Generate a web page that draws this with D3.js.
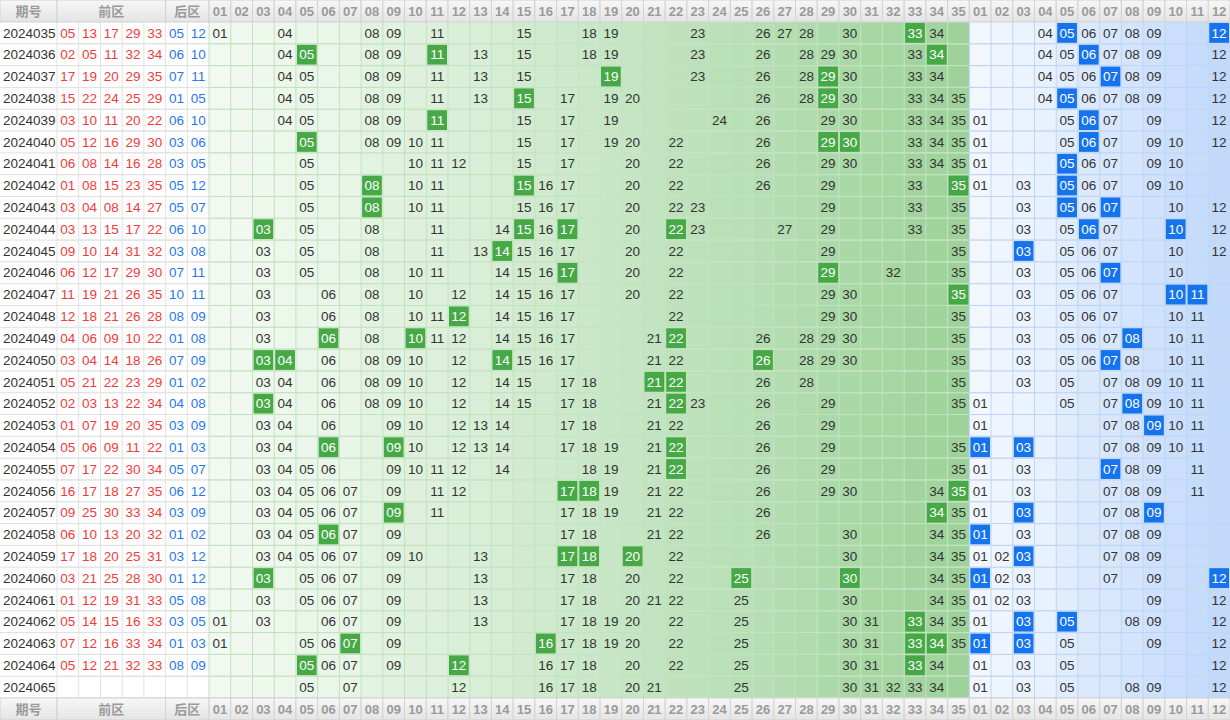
<!DOCTYPE html>
<html>
<head>
<meta charset="utf-8">
<script src="https://cdn.jsdelivr.net/npm/d3@7"></script>
<style>
  body { margin: 0; background: #fff; }
  svg { display: block; font-family: "Liberation Sans", Arial, "Noto Sans CJK SC", sans-serif; }
</style>
</head>
<body>
<svg id="chart"></svg>
<script>
const periods = d3.range(2024035, 2024066).map(String);

// winning numbers per period (last period not drawn yet)
const frontWin = [
  "05 13 17 29 33", "02 05 11 32 34", "17 19 20 29 35", "15 22 24 25 29", "03 10 11 20 22",
  "05 12 16 29 30", "06 08 14 16 28", "01 08 15 23 35", "03 04 08 14 27", "03 13 15 17 22",
  "09 10 14 31 32", "06 12 17 29 30", "11 19 21 26 35", "12 18 21 26 28", "04 06 09 10 22",
  "03 04 14 18 26", "05 21 22 23 29", "02 03 13 22 34", "01 07 19 20 35", "05 06 09 11 22",
  "07 17 22 30 34", "16 17 18 27 35", "09 25 30 33 34", "06 10 13 20 32", "17 18 20 25 31",
  "03 21 25 28 30", "01 12 19 31 33", "05 14 15 16 33", "07 12 16 33 34", "05 12 21 32 33", ""
];
const backWin = [
  "05 12", "06 10", "07 11", "01 05", "06 10", "03 06", "03 05", "05 12", "05 07", "06 10",
  "03 08", "07 11", "10 11", "08 09", "01 08", "07 09", "01 02", "04 08", "03 09", "01 03",
  "05 07", "06 12", "03 09", "01 02", "03 12", "01 12", "05 08", "03 05", "01 03", "08 09", ""
];

// numbers shown in the grid; * marks a hit cell
const frontGrid = [
  "01 04 08 09 11 15 18 19 23 26 27 28 30 33* 34",
  "04 05* 08 09 11* 13 15 18 19 23 26 28 29 30 33 34*",
  "04 05 08 09 11 13 15 19* 23 26 28 29* 30 33 34",
  "04 05 08 09 11 13 15* 17 19 20 26 28 29* 30 33 34 35",
  "04 05 08 09 11* 15 17 19 24 26 29 30 33 34 35",
  "05* 08 09 10 11 15 17 19 20 22 26 29* 30* 33 34 35",
  "05 10 11 12 15 17 20 22 26 29 30 33 34 35",
  "05 08* 10 11 15* 16 17 20 22 26 29 33 35*",
  "05 08* 10 11 15 16 17 20 22 23 29 33 35",
  "03* 05 08 11 14 15* 16 17* 20 22* 23 27 29 33 35",
  "03 05 08 11 13 14* 15 16 17 20 22 29 35",
  "03 05 08 10 11 14 15 16 17* 20 22 29* 32 35",
  "03 06 08 10 12 14 15 16 17 20 22 29 30 35*",
  "03 06 08 10 11 12* 14 15 16 17 22 29 30 35",
  "03 06* 08 10* 11 12 14 15 16 17 21 22* 26 28 29 30 35",
  "03* 04* 06 08 09 10 12 14* 15 16 17 21 22 26* 28 29 30 35",
  "03 04 06 08 09 10 12 14 15 17 18 21* 22* 26 28 35",
  "03* 04 06 08 09 10 12 14 15 17 18 21 22* 23 26 29 35",
  "03 04 06 09 10 12 13 14 17 18 21 22 26 29",
  "03 04 06* 09* 10 12 13 14 17 18 19 21 22* 26 29 35",
  "03 04 05 06 09 10 11 12 14 18 19 21 22* 26 29 35",
  "03 04 05 06 07 09 11 12 17* 18* 19 21 22 26 29 30 34 35*",
  "03 04 05 06 07 09* 11 17 18 19 21 22 26 34* 35",
  "03 04 05 06* 07 09 17 18 21 22 26 30 34 35",
  "03 04 05 06 07 09 10 13 17* 18* 20* 22 30 34 35",
  "03* 05 06 07 09 13 17 18 20 22 25* 30* 34 35",
  "03 05 06 07 09 13 17 18 20 21 22 25 30 34 35",
  "01 03 06 07 09 13 17 18 19 20 22 25 30 31 33* 34 35",
  "01 05 06 07* 09 16* 17 18 19 20 22 25 30 31 33* 34* 35",
  "05* 06 07 09 12* 16 17 18 20 22 25 30 31 33* 34",
  "05 07 12 16 17 18 20 21 25 30 31 32 33 34"
];
const backGrid = [
  "04 05* 06 07 08 09 12*", "04 05 06* 07 08 09 12", "04 05 06 07* 08 09 12", "04 05* 06 07 08 09 12",
  "01 05 06* 07 09 12", "01 05 06* 07 09 10 12", "01 05* 06 07 09 10", "01 03 05* 06 07 09 10",
  "03 05* 06 07* 10 12", "03 05 06* 07 10* 12", "03* 05 06 07 10 12", "03 05 06 07* 10",
  "03 05 06 07 10* 11*", "03 05 06 07 10 11", "03 05 06 07 08* 10 11", "03 05 06 07* 08 10 11",
  "03 05 07 08 09 10 11", "01 05 07 08* 09 10 11", "01 07 08 09* 10 11", "01* 03* 07 08 09 10 11",
  "01 03 07* 08 09 11", "01 03 07 08 09 11", "01 03* 07 08 09*", "01* 03 07 08 09",
  "01 02 03* 07 08 09", "01* 02 03 07 09 12*", "01 02 03 09 12", "01 03* 05* 08 09 12",
  "01* 03* 05 09 12", "01 03 05 12", "01 03 05 08 09 12"
];

const frontNums = d3.range(1, 36).map(d => String(d).padStart(2, "0"));
const backNums = d3.range(1, 13).map(d => String(d).padStart(2, "0"));

const W = 1230, H = 720, idW = 57, headH = 22;
const svg = d3.select("#chart").attr("width", W).attr("height", H);

// 54 equal columns: 5 front + 2 back + 35 front grid + 12 back grid
const colKeys = d3.range(54);
const x = d3.scaleBand().domain(colKeys).range([idW, W]);
const cw = x.bandwidth();
const y = d3.scaleBand().domain(periods).range([headH, H - headH]);
const rh = y.bandwidth();

// column background colours
const greenBands = [["#f1f9f0", "#e8f5e7"], ["#e3f3e1", "#d6edd4"], ["#d2ebd0", "#c2e4c0"], ["#bfe2bc", "#b1dbae"], ["#acd9a9", "#9fd29b"]];
const blueBands = [["#f2f7ff", "#e8f1fe"], ["#e1ecfd", "#d3e4fc"], ["#cfe1fc", "#c2d9fa"]];
function colFill(c) {
  if (c < 7) return "#ffffff";
  if (c < 42) { const i = c - 7, b = greenBands[Math.floor(i / 7)]; return d3.interpolateRgb(b[0], b[1])((i % 7) / 6); }
  const i = c - 42, b = blueBands[Math.floor(i / 4)]; return d3.interpolateRgb(b[0], b[1])((i % 4) / 3);
}
function lineCol(c) { return c < 7 ? "#e2e2e2" : c < 42 ? "#bfe3bc" : "#bad5f7"; }

const body = svg.append("g");
colKeys.forEach(c => {
  body.append("rect").attr("x", x(c)).attr("y", headH).attr("width", cw).attr("height", H - 2 * headH)
    .attr("fill", colFill(c));
});
body.append("rect").attr("x", 0).attr("y", headH).attr("width", idW).attr("height", H - 2 * headH).attr("fill", "#fff");

// grid lines
periods.forEach(p => {
  body.append("line").attr("x1", 0).attr("x2", W).attr("y1", y(p) + rh).attr("y2", y(p) + rh)
    .attr("stroke", "#e0e0e0").attr("stroke-width", 1);
  colKeys.forEach(c => {
    body.append("line").attr("x1", x(c)).attr("x2", x(c) + cw).attr("y1", y(p) + rh).attr("y2", y(p) + rh)
      .attr("stroke", lineCol(c));
  });
});
colKeys.forEach(c => {
  body.append("line").attr("x1", x(c)).attr("x2", x(c)).attr("y1", headH).attr("y2", H - headH)
    .attr("stroke", lineCol(c));
});

// period id + winning numbers
periods.forEach((p, r) => {
  const cy = y(p) + rh / 2;
  body.append("text").attr("x", 3).attr("y", cy).attr("dy", "0.35em").attr("font-size", 13.5)
    .attr("fill", "#333").text(p);
  const fw = frontWin[r] ? frontWin[r].split(" ") : [];
  const bw = backWin[r] ? backWin[r].split(" ") : [];
  fw.forEach((n, i) => body.append("text").attr("x", x(i) + cw / 2).attr("y", cy).attr("dy", "0.35em")
    .attr("text-anchor", "middle").attr("font-size", 13.5).attr("fill", "#f03b3b").text(n));
  bw.forEach((n, i) => body.append("text").attr("x", x(5 + i) + cw / 2).attr("y", cy).attr("dy", "0.35em")
    .attr("text-anchor", "middle").attr("font-size", 13.5).attr("fill", "#1f78ee").text(n));
});

// grid numbers
function drawGrid(rows, offset, hitColor) {
  rows.forEach((row, r) => {
    const p = periods[r], cy = y(p) + rh / 2;
    row.split(" ").forEach(tok => {
      const hit = tok.endsWith("*"), n = tok.replace("*", ""), c = offset + (+n) - 1;
      if (hit) body.append("rect").attr("x", x(c) + 1).attr("y", y(p) + 1).attr("width", cw - 2).attr("height", rh - 2)
        .attr("fill", hitColor);
      body.append("text").attr("x", x(c) + cw / 2).attr("y", cy).attr("dy", "0.35em")
        .attr("text-anchor", "middle").attr("font-size", 13.5)
        .attr("fill", hit ? "#fff" : "#333").text(n);
    });
  });
}
drawGrid(frontGrid, 7, "#46a946");
drawGrid(backGrid, 42, "#1673ee");

// header and footer rows
const grad = svg.append("defs").append("linearGradient").attr("id", "hd").attr("x1", 0).attr("x2", 0).attr("y1", 0).attr("y2", 1);
grad.append("stop").attr("offset", "0%").attr("stop-color", "#f7f7f7");
grad.append("stop").attr("offset", "100%").attr("stop-color", "#e4e4e4");

[0, H - headH].forEach(hy => {
  const g = svg.append("g").attr("transform", `translate(0,${hy})`);
  const cells = [{ x0: 0, x1: idW, t: "期号" }, { x0: x(0), x1: x(5), t: "前区" }, { x0: x(5), x1: x(7), t: "后区" }]
    .concat(frontNums.map((n, i) => ({ x0: x(7 + i), x1: x(7 + i) + cw, t: n })))
    .concat(backNums.map((n, i) => ({ x0: x(42 + i), x1: x(42 + i) + cw, t: n })));
  cells.forEach(d => {
    g.append("rect").attr("x", d.x0).attr("y", 0).attr("width", d.x1 - d.x0).attr("height", headH)
      .attr("fill", "url(#hd)").attr("stroke", "#d2d2d2");
    g.append("text").attr("x", (d.x0 + d.x1) / 2).attr("y", headH / 2).attr("dy", "0.36em")
      .attr("text-anchor", "middle").attr("font-size", 13).attr("font-weight", "bold")
      .attr("fill", "#9a9a9a").text(d.t);
  });
});
</script>
</body>
</html>
